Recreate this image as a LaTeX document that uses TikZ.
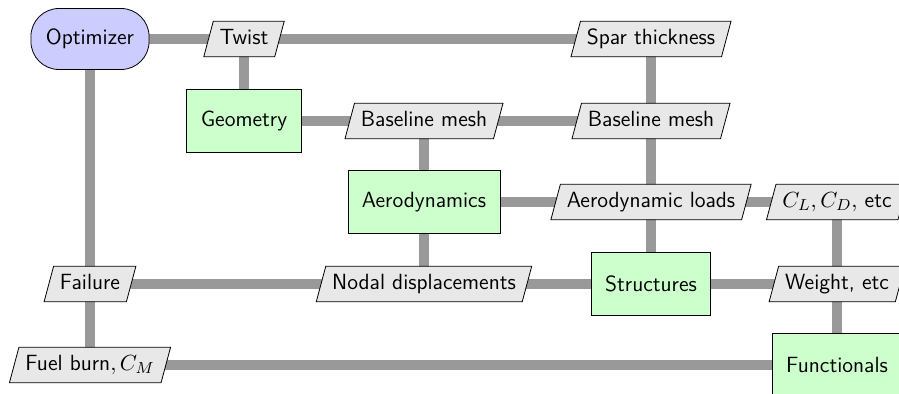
\documentclass[tikz,border=0pt]{standalone}
\usetikzlibrary{shapes.geometric,backgrounds}
\definecolor{linegray}{RGB}{153,153,153}
\definecolor{iofill}{RGB}{232,232,232}
\definecolor{compfill}{RGB}{204,255,204}
\definecolor{optfill}{RGB}{204,204,255}
\tikzset{
  base/.style={font=\fontsize{11}{13}\sffamily, text=black, draw=black, line width=0.4pt},
  optbox/.style={base, fill=optfill, rounded corners=14pt, minimum height=30.5pt, inner xsep=7.5pt},
  compbox/.style={base, fill=compfill, rectangle, minimum height=31.5pt, inner xsep=7pt},
  iobox/.style={base, fill=iofill, trapezium, trapezium left angle=75, trapezium right angle=105,
     trapezium stretches body, text height=8pt, text depth=2.5pt, inner ysep=3.6pt, inner xsep=3.2pt},
  flow/.style={draw=linegray, line width=5pt}
}
\begin{document}
\begin{tikzpicture}[x=0.5pt,y=-0.5pt]
\useasboundingbox (0,0) rectangle (899,394);
\node[optbox] (opt) at (90,39) {Optimizer};
\node[iobox] (twist) at (244,39) {Twist};
\node[iobox] (spar) at (651,39) {Spar thickness};
\node[compbox] (geom) at (244,121) {Geometry};
\node[iobox] (bm1) at (424,121) {Baseline mesh};
\node[iobox] (bm2) at (651,121) {Baseline mesh};
\node[compbox] (aero) at (424,202) {Aerodynamics};
\node[iobox] (loads) at (651,202) {Aerodynamic loads};
\node[iobox] (clcd) at (837,202) {$C_L, C_D,$ etc};
\node[iobox] (fail) at (90,284) {Failure};
\node[iobox] (nodal) at (424,284) {Nodal displacements};
\node[compbox] (struct) at (651,284) {Structures};
\node[iobox] (weight) at (837,284) {Weight, etc};
\node[iobox] (fuel) at (90,365) {Fuel burn$, C_M$};
\node[compbox] (func) at (837,365) {Functionals};
\begin{scope}[on background layer]
\draw[flow] (opt.center) -- (twist.center) -- (spar.center);
\draw[flow] (twist.center) -- (geom.center);
\draw[flow] (spar.center) -- (bm2.center) -- (loads.center) -- (struct.center);
\draw[flow] (geom.center) -- (bm1.center) -- (bm2.center);
\draw[flow] (bm1.center) -- (aero.center) -- (nodal.center);
\draw[flow] (aero.center) -- (loads.center) -- (clcd.center);
\draw[flow] (clcd.center) -- (weight.center) -- (func.center);
\draw[flow] (fail.center) -- (nodal.center) -- (struct.center) -- (weight.center);
\draw[flow] (opt.center) -- (fail.center) -- (fuel.center);
\draw[flow] (fuel.center) -- (func.center);
\end{scope}
\end{tikzpicture}
\end{document}
